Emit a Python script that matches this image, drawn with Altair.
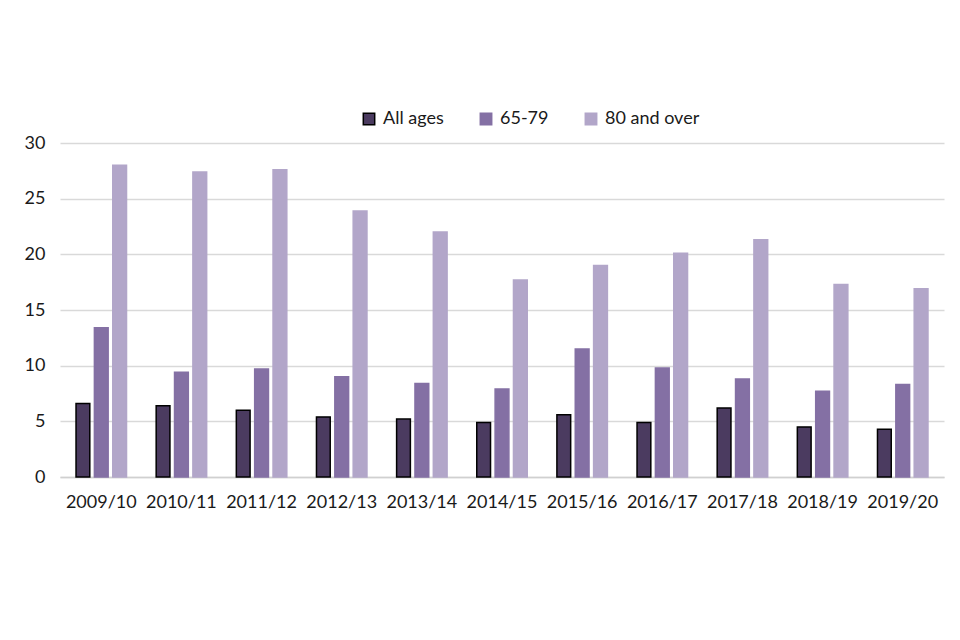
import altair as alt
import pandas as pd

years = ["2009/10", "2010/11", "2011/12", "2012/13", "2013/14", "2014/15",
         "2015/16", "2016/17", "2017/18", "2018/19", "2019/20"]
all_ages = [6.6, 6.4, 6.0, 5.4, 5.2, 4.9, 5.6, 4.9, 6.2, 4.5, 4.3]
age_65_79 = [13.4, 9.4, 9.7, 9.0, 8.4, 7.9, 11.5, 9.8, 8.8, 7.7, 8.3]
age_80_over = [28.0, 27.4, 27.6, 23.9, 22.0, 17.7, 19.0, 20.1, 21.3, 17.3, 16.9]

series = ["All ages", "65-79", "80 and over"]
fills = ["#4b3b60", "#8470a4", "#b2a6c9"]
strokes = ["#000000", "#8470a4", "#b2a6c9"]

rows = []
for i, y in enumerate(years):
    for s, vals in zip(series, [all_ages, age_65_79, age_80_over]):
        rows.append({"year": y, "series": s, "value": vals[i]})
df = pd.DataFrame(rows)

FONT = "Lato"
FS = 18

legend_spec = dict(title=None, orient="none", direction="horizontal",
                   legendX=300, legendY=-33, symbolType="square",
                   symbolSize=130, labelFontSize=FS, labelFont=FONT,
                   labelColor="#1a1a1a", columnPadding=33,
                   symbolStrokeWidth=1.5, labelOffset=5)

chart = alt.Chart(df).mark_bar(strokeWidth=1.5).encode(
    x=alt.X("year:N", sort=years, title=None,
            scale=alt.Scale(paddingInner=0.37, paddingOuter=0.2),
            axis=alt.Axis(labelAngle=0, labelFontSize=FS, labelFont=FONT,
                          labelColor="#1a1a1a", ticks=False, domainColor="#d0d0d0",
                          domainWidth=1.5, labelPadding=16)),
    xOffset=alt.XOffset("series:N", sort=series,
                        scale=alt.Scale(paddingInner=0.25)),
    y=alt.Y("value:Q", title=None,
            scale=alt.Scale(domain=[0, 30]),
            axis=alt.Axis(values=[0, 5, 10, 15, 20, 25, 30], labelFontSize=FS,
                          labelFont=FONT, labelColor="#1a1a1a", ticks=False,
                          domain=False, gridColor="#d9d9d9", gridWidth=1.5,
                          labelPadding=15)),
    color=alt.Color("series:N", sort=series,
                    scale=alt.Scale(domain=series, range=fills),
                    legend=alt.Legend(**legend_spec)),
    stroke=alt.Stroke("series:N", sort=series,
                      scale=alt.Scale(domain=series, range=strokes),
                      legend=alt.Legend(**legend_spec)),
).properties(
    width=884, height=334,
    autosize=alt.AutoSizeParams(type="none"),
    padding={"left": 52, "top": 135, "right": 8, "bottom": 150},
).configure(background="white", view=alt.ViewConfig(stroke=None))

chart.save("out.html", embed_options={"renderer": "svg", "actions": False})
